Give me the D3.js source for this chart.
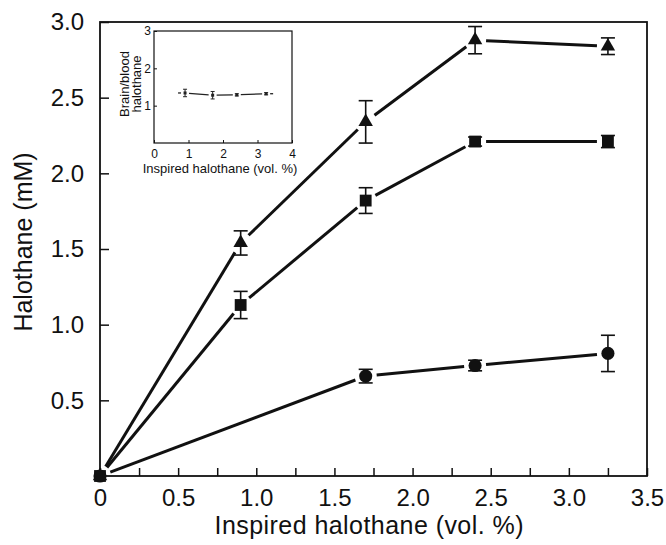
<!DOCTYPE html>
<html>
<head>
<meta charset="utf-8">
<script src="https://cdn.jsdelivr.net/npm/d3@7"></script>
<style>
body { margin: 0; background: #fff; }
svg text { font-family: "Liberation Sans", Arial, sans-serif; fill: #111; }
</style>
</head>
<body>
<script>
// main chart data, inspired halothane (vol. %) vs halothane (mM)
var doseX = [0, 0.9, 1.7, 2.4, 3.25];
var triangleY = [0, 1.54, 2.34, 2.88, 2.84];
var triangleErr = [0, 0.08, 0.14, 0.09, 0.055];
var squareY = [0, 1.13, 1.82, 2.21, 2.21];
var squareErr = [0, 0.09, 0.085, 0.03, 0.04];
var circleX = [0, 1.7, 2.4, 3.25];
var circleY = [0, 0.66, 0.73, 0.81];
var circleErr = [0, 0.045, 0.035, 0.12];

var xTicks = [0, 0.25, 0.5, 0.75, 1.0, 1.25, 1.5, 1.75, 2.0, 2.25, 2.5, 2.75, 3.0, 3.25, 3.5];
var xLabels = [0, 0.5, 1.0, 1.5, 2.0, 2.5, 3.0, 3.5];
var yTicks = [0.5, 1.0, 1.5, 2.0, 2.5, 3.0];

// inset: brain/blood ratio
var insetX = [0.9, 1.7, 2.4, 3.25];
var insetY = [1.34, 1.28, 1.29, 1.32];
var insetErr = [0.1, 0.1, 0.03, 0.03];
var insetXTicks = [0, 1, 2, 3, 4];
var insetYTicks = [1, 2, 3];

var svg = d3.select("body").append("svg")
  .attr("width", 666)
  .attr("height", 545);

var x = d3.scaleLinear().domain([0, 3.5]).range([100, 647]);
var y = d3.scaleLinear().domain([0, 3.0]).range([476, 22]);

// x axis: inside ticks every 0.25, then a second axis just for the labels
var xAxis = svg.append("g")
  .attr("transform", "translate(0," + y(0) + ")")
  .call(d3.axisBottom(x).tickValues(xTicks).tickSizeInner(-8).tickSizeOuter(0).tickFormat(""));
xAxis.select(".domain").remove();
xAxis.selectAll("text").remove();
xAxis.selectAll("line").attr("stroke", "#111").attr("stroke-width", 1.5);

var xLab = svg.append("g")
  .attr("transform", "translate(0," + (y(0) + 2) + ")")
  .call(d3.axisBottom(x).tickValues(xLabels).tickSize(0).tickPadding(10.5)
    .tickFormat(d => d === 0 ? "0" : d3.format(".1f")(d)));
xLab.select(".domain").remove();
xLab.selectAll("line").remove();
xLab.selectAll("text").attr("font-size", "24px").style("font-family", "Liberation Sans, Arial, sans-serif");

var yAxis = svg.append("g")
  .attr("transform", "translate(" + x(0) + ",0)")
  .call(d3.axisLeft(y).tickValues(yTicks).tickSizeInner(-9).tickSizeOuter(0).tickPadding(16)
    .tickFormat(d3.format(".1f")));
yAxis.select(".domain").remove();
yAxis.selectAll("line").attr("stroke", "#111").attr("stroke-width", 1.5);
yAxis.selectAll("text").attr("font-size", "24px").style("font-family", "Liberation Sans, Arial, sans-serif");

// frame
svg.append("rect")
  .attr("x", x(0)).attr("y", y(3.0))
  .attr("width", x(3.5) - x(0)).attr("height", y(0) - y(3.0))
  .attr("fill", "none").attr("stroke", "#111").attr("stroke-width", 1.8);

// segments between points, stopped short of each marker
function gapSegments(xs, ys, sx, sy, gap) {
  var segs = [];
  for (var i = 0; i < xs.length - 1; i++) {
    var x1 = sx(xs[i]), y1 = sy(ys[i]), x2 = sx(xs[i + 1]), y2 = sy(ys[i + 1]);
    var len = Math.sqrt((x2 - x1) * (x2 - x1) + (y2 - y1) * (y2 - y1));
    var ux = (x2 - x1) / len, uy = (y2 - y1) / len;
    segs.push([x1 + ux * gap, y1 + uy * gap, x2 - ux * gap, y2 - uy * gap]);
  }
  return segs;
}

var series = [
  {xs: doseX, ys: triangleY, err: triangleErr, symbol: d3.symbolTriangle, size: 90},
  {xs: doseX, ys: squareY, err: squareErr, symbol: d3.symbolSquare, size: 140},
  {xs: circleX, ys: circleY, err: circleErr, symbol: d3.symbolCircle, size: 135}
];

series.forEach(s => {
  svg.append("g").selectAll("line")
    .data(gapSegments(s.xs, s.ys, x, y, 11))
    .enter().append("line")
    .attr("x1", d => d[0]).attr("y1", d => d[1])
    .attr("x2", d => d[2]).attr("y2", d => d[3])
    .attr("stroke", "#111").attr("stroke-width", 3);

  var pts = s.xs.map((v, i) => ({x: v, y: s.ys[i], e: s.err[i]}));
  var eb = svg.append("g").selectAll("g")
    .data(pts.filter(d => d.e > 0))
    .enter().append("g").attr("stroke", "#111").attr("stroke-width", 1.6);
  eb.append("line")
    .attr("x1", d => x(d.x)).attr("x2", d => x(d.x))
    .attr("y1", d => y(d.y - d.e)).attr("y2", d => y(d.y + d.e));
  eb.append("line")
    .attr("x1", d => x(d.x) - 7).attr("x2", d => x(d.x) + 7)
    .attr("y1", d => y(d.y + d.e)).attr("y2", d => y(d.y + d.e));
  eb.append("line")
    .attr("x1", d => x(d.x) - 7).attr("x2", d => x(d.x) + 7)
    .attr("y1", d => y(d.y - d.e)).attr("y2", d => y(d.y - d.e));

  svg.append("g").selectAll("path")
    .data(pts)
    .enter().append("path")
    .attr("transform", d => "translate(" + x(d.x) + "," + y(d.y) + ")")
    .attr("d", d3.symbol().type(s.symbol).size(s.size))
    .attr("fill", "#111");
});

// axis titles
svg.append("text")
  .attr("x", 369).attr("y", 534)
  .style("text-anchor", "middle")
  .attr("font-size", "25px")
  .attr("textLength", 309)
  .text("Inspired halothane (vol. %)");

svg.append("text")
  .attr("transform", "rotate(-90)")
  .attr("x", -242).attr("y", 32)
  .style("text-anchor", "middle")
  .attr("font-size", "25px")
  .text("Halothane (mM)");

// inset
var ix = d3.scaleLinear().domain([0, 4]).range([154, 292]);
var iy = d3.scaleLinear().domain([0, 3]).range([143, 31]);

var inset = svg.append("g");
inset.append("rect")
  .attr("x", ix(0)).attr("y", iy(3))
  .attr("width", ix(4) - ix(0)).attr("height", iy(0) - iy(3))
  .attr("fill", "#fff").attr("stroke", "#111").attr("stroke-width", 1.2);

var ixAxis = inset.append("g")
  .attr("transform", "translate(0," + iy(0) + ")")
  .call(d3.axisBottom(ix).tickValues(insetXTicks).tickSizeInner(-3).tickSizeOuter(0).tickPadding(6).tickFormat(d3.format("d")));
ixAxis.select(".domain").remove();
ixAxis.selectAll("line").attr("stroke", "#111");
ixAxis.selectAll("text").attr("font-size", "12px").style("font-family", "Liberation Sans, Arial, sans-serif");

var iyAxis = inset.append("g")
  .attr("transform", "translate(" + ix(0) + ",0)")
  .call(d3.axisLeft(iy).tickValues(insetYTicks).tickSizeInner(-3).tickSizeOuter(0).tickPadding(3).tickFormat(d3.format("d")));
iyAxis.select(".domain").remove();
iyAxis.selectAll("line").attr("stroke", "#111");
iyAxis.selectAll("text").attr("font-size", "12px").style("font-family", "Liberation Sans, Arial, sans-serif");

inset.append("g").selectAll("line")
  .data(gapSegments(insetX, insetY, ix, iy, 4))
  .enter().append("line")
  .attr("x1", d => d[0]).attr("y1", d => d[1])
  .attr("x2", d => d[2]).attr("y2", d => d[3])
  .attr("stroke", "#222").attr("stroke-width", 1.3);

var ipts = insetX.map((v, i) => ({x: v, y: insetY[i], e: insetErr[i]}));
// short dashes at the two ends of the inset line
inset.append("line")
  .attr("x1", ix(insetX[0]) - 7).attr("x2", ix(insetX[0]) - 4)
  .attr("y1", iy(insetY[0])).attr("y2", iy(insetY[0]))
  .attr("stroke", "#222").attr("stroke-width", 1.3);
inset.append("line")
  .attr("x1", ix(insetX[3]) + 4).attr("x2", ix(insetX[3]) + 7)
  .attr("y1", iy(insetY[3])).attr("y2", iy(insetY[3]))
  .attr("stroke", "#222").attr("stroke-width", 1.3);

var ieb = inset.append("g").selectAll("g")
  .data(ipts).enter().append("g").attr("stroke", "#222").attr("stroke-width", 1);
ieb.append("line")
  .attr("x1", d => ix(d.x)).attr("x2", d => ix(d.x))
  .attr("y1", d => iy(d.y - d.e)).attr("y2", d => iy(d.y + d.e));
ieb.append("line")
  .attr("x1", d => ix(d.x) - 2).attr("x2", d => ix(d.x) + 2)
  .attr("y1", d => iy(d.y + d.e)).attr("y2", d => iy(d.y + d.e));
ieb.append("line")
  .attr("x1", d => ix(d.x) - 2).attr("x2", d => ix(d.x) + 2)
  .attr("y1", d => iy(d.y - d.e)).attr("y2", d => iy(d.y - d.e));
inset.append("g").selectAll("path")
  .data(ipts).enter().append("path")
  .attr("transform", d => "translate(" + ix(d.x) + "," + iy(d.y) + ")")
  .attr("d", d3.symbol().type(d3.symbolSquare).size(9))
  .attr("fill", "#222");

inset.append("text")
  .attr("x", 220).attr("y", 173)
  .style("text-anchor", "middle")
  .attr("font-size", "13px")
  .text("Inspired halothane (vol. %)");

inset.append("text")
  .attr("transform", "rotate(-90)")
  .attr("x", -84).attr("y", 129)
  .style("text-anchor", "middle")
  .attr("font-size", "13px")
  .text("Brain/blood");
inset.append("text")
  .attr("transform", "rotate(-90)")
  .attr("x", -84).attr("y", 141)
  .style("text-anchor", "middle")
  .attr("font-size", "13px")
  .text("halothane");
</script>
</body>
</html>
